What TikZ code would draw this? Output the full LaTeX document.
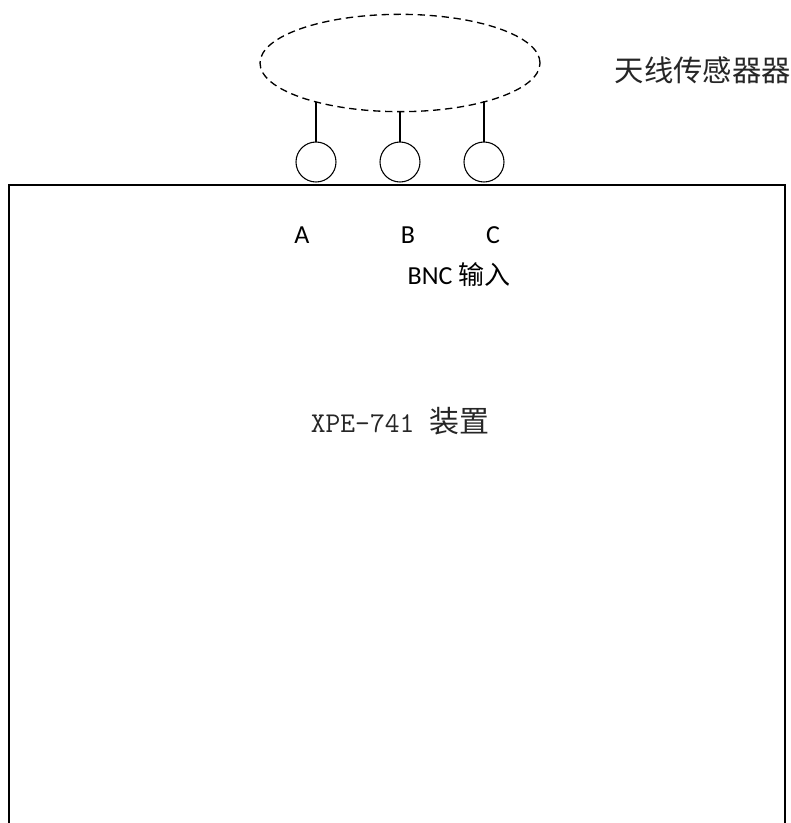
\documentclass[tikz,border=0pt]{standalone}
\usepackage{fontspec}
\setmainfont{Carlito}
\newfontfamily\cjk{Noto Sans CJK SC}
\usetikzlibrary{shapes.geometric,positioning}

\begin{document}
\begin{tikzpicture}[x=0.75pt,y=-0.75pt,node distance=33pt]
    \tikzset{bnc/.style={circle,draw,line width=0.8pt,minimum size=30pt,inner sep=0pt,outer sep=0pt},
             stem/.style={line width=0.9pt},
             port/.style={font=\fontsize{19.5}{19.5}\selectfont}}
    \useasboundingbox (0,0) rectangle (790,823);

    % antenna sensor
    \node[ellipse,draw,dash pattern=on 5.5pt off 3.5pt,line width=1pt,
          minimum width=210pt,minimum height=73pt,outer sep=0pt] (antenna) at (400,63) {};
    \node[anchor=west,font=\cjk\fontsize{22}{22}\selectfont,text=black!85] (sensorlabel) at (610,70) {天线传感器器};

    % BNC connectors
    \node[bnc] (bncA) at (316,162) {};
    \node[bnc] (bncB) [right=of bncA] {};
    \node[bnc] (bncC) [right=of bncB] {};
    \draw[stem] (bncA.north) -- (bncA.north |- antenna.205);
    \draw[stem] (bncB.north) -- (bncB.north |- antenna.south);
    \draw[stem] (bncC.north) -- (bncC.north |- antenna.-24);

    % device box
    \coordinate (boxBL) at (9,823);
    \coordinate (boxTL) at (9,185);
    \coordinate (boxTR) at (785,185);
    \coordinate (boxBR) at (785,823);
    \draw[line width=1pt] (boxBL) -- (boxTL) -- (boxTR) -- (boxBR);

    \node[port] (labelA) at (302,235) {A};
    \node[port] (labelB) at (408,235) {B};
    \node[port] (labelC) at (493,235) {C};
    \node[port] (bncinput) at (459,275) {BNC {\cjk 输入}};
    \node[font=\ttfamily\fontsize{21.5}{21.5}\selectfont,text=black!85] (device) at (400,421) {XPE-741 {\cjk\fontsize{22.5}{22.5}\selectfont 装置}};
\end{tikzpicture}
\end{document}
